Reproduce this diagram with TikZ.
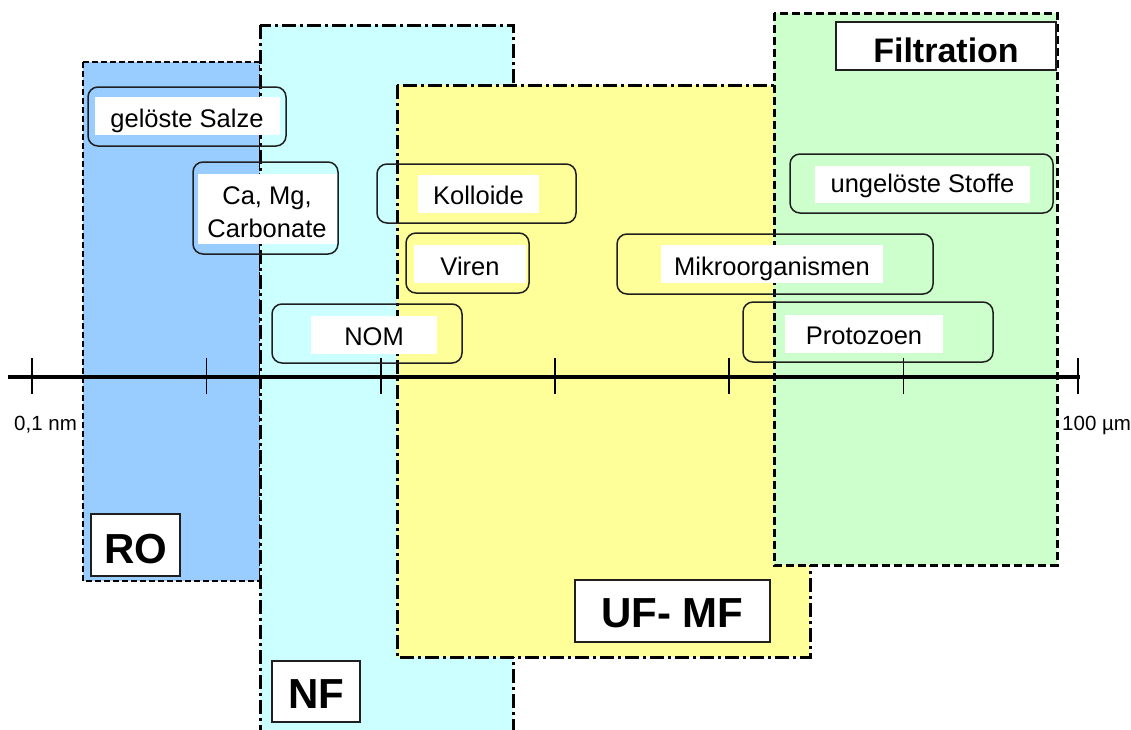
\documentclass[tikz,border=0pt]{standalone}
\usepackage{fontspec}
\setmainfont{Liberation Sans}
\definecolor{roblue}{HTML}{99CCFF}
\definecolor{nfcyan}{HTML}{CCFFFF}
\definecolor{ufyellow}{HTML}{FFFF99}
\definecolor{figreen}{HTML}{CCFFCC}
\begin{document}
\begin{tikzpicture}[x=1pt,y=-1pt]
\tikzset{
  rbox/.style={draw=black!88, line width=1.5pt, rounded corners=10pt, inner sep=0pt},
  tbox/.style={fill=white, inner xsep=0pt, inner ysep=0pt, text height=30pt, text depth=8pt,
               font=\fontsize{25.5}{30}\selectfont},
  plaintext/.style={inner sep=0pt, font=\fontsize{25.5}{30}\selectfont},
  lbox/.style={draw=black!88, line width=1.5pt, fill=white, inner sep=0pt,
               font=\bfseries\fontsize{42}{50}\selectfont},
  axfont/.style={inner sep=0pt, font=\fontsize{20.5}{24}\selectfont},
  rodash/.style={line width=2.5pt, dash pattern=on 6pt off 3pt},
  fidash/.style={line width=3pt, dash pattern=on 8pt off 4pt},
  dashdot/.style={line width=3pt, dash pattern=on 14pt off 4pt on 3pt off 4pt},
  axisline/.style={line width=3.5pt},
  tickline/.style={line width=1.5pt},
}
\useasboundingbox (0,0) rectangle (1131,729);
\clip (0,0) rectangle (1131,729);
% regions
\draw[rodash, fill=roblue] (83,62) rectangle (260,581);
\draw[dashdot, fill=nfcyan] (260,25) rectangle (513,740);
\draw[dashdot, fill=ufyellow] (397,85) rectangle (810,657);
\draw[fidash, fill=figreen] (774,13) rectangle (1057,565);
% region labels
\node[lbox, minimum width=89pt, minimum height=62pt, text height=49pt, text depth=13pt] (ro) at (135.5,545) {RO};
\node[lbox, minimum width=88pt, minimum height=61pt, text height=47pt, text depth=14pt] (nf) at (316,691.5) {NF};
\node[lbox, minimum width=195pt, minimum height=62pt, text height=47pt, text depth=15pt] (uf) at (672.5,611) {UF- MF};
\node[lbox, minimum width=220pt, minimum height=48pt, text height=40pt, text depth=8pt,
      font=\bfseries\fontsize{34}{40}\selectfont] (fi) at (946,46) {Filtration};
% axis
\coordinate (axL) at (8,377);
\coordinate (axR) at (1080,377);
\draw[axisline] (axL) -- (axR);
\foreach \x in {32,206.5,381,555,729,903.5,1078} {
  \draw[tickline] (\x,358) -- (\x,394);
}
\node[axfont, anchor=base west] (lmin) at (14,430) {0,1 nm};
\node[axfont, anchor=base west] (lmax) at (1062,430) {100 µm};
% rounded boxes
\node[rbox, minimum width=198pt, minimum height=59pt] (bSalze) at (187,116.5) {};
\node[tbox, minimum width=185pt] (tSalze) at (187,116) {gelöste Salze};
\node[rbox, minimum width=145pt, minimum height=92pt] (bCa) at (265.5,208) {};
\node[fill=white, inner sep=0pt, minimum width=139pt, minimum height=70pt] (wCa) at (267.5,209) {};
\node[plaintext, anchor=base] (tCa1) at (267,204.5) {Ca, Mg,};
\node[plaintext, anchor=base] (tCa2) at (267,237.5) {Carbonate};
\node[rbox, minimum width=199pt, minimum height=59pt] (bKol) at (476.5,193.5) {};
\node[tbox, minimum width=121pt] (tKol) at (478.5,193.5) {Kolloide};
\node[rbox, minimum width=123pt, minimum height=60pt] (bVir) at (467.5,263) {};
\node[tbox, minimum width=112pt] (tVir) at (470,264) {Viren};
\node[rbox, minimum width=190pt, minimum height=59pt] (bNom) at (367,333.5) {};
\node[tbox, minimum width=126pt] (tNom) at (374,334.5) {NOM};
\node[rbox, minimum width=316pt, minimum height=60pt] (bMik) at (775,264) {};
\node[tbox, minimum width=222pt] (tMik) at (772,264) {Mikroorganismen};
\node[rbox, minimum width=250pt, minimum height=60pt] (bPro) at (868,332) {};
\node[tbox, minimum width=158pt] (tPro) at (864,333.5) {Protozoen};
\node[rbox, minimum width=263pt, minimum height=59pt] (bUng) at (921.5,183.5) {};
\node[tbox, minimum width=215pt, text height=26pt, text depth=11pt] (tUng) at (922.5,184.5) {ungelöste Stoffe};
\end{tikzpicture}
\end{document}
